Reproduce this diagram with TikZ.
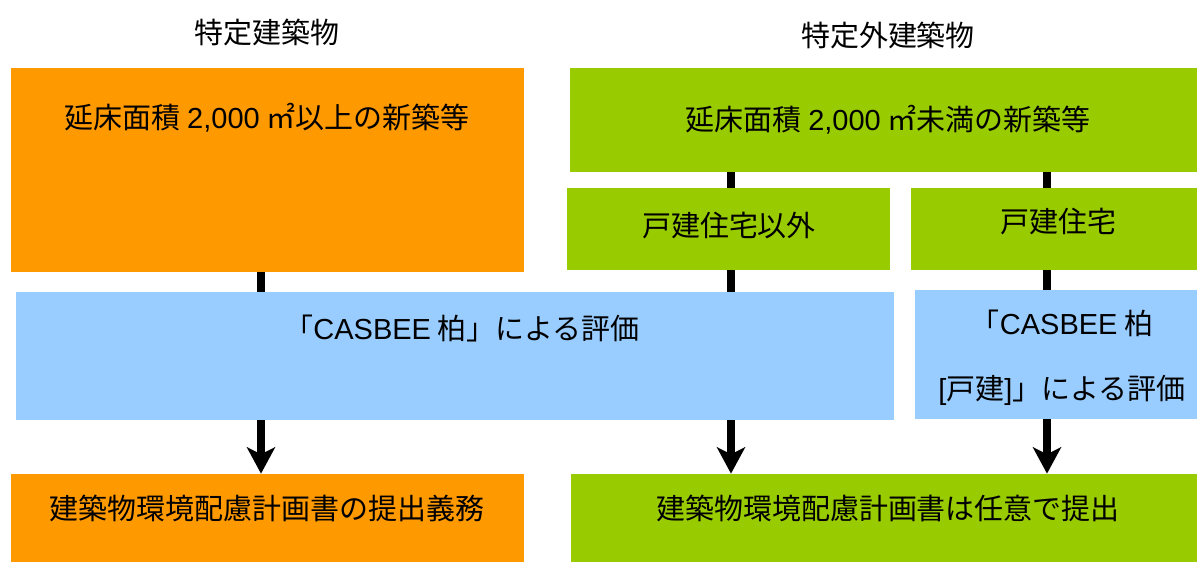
\documentclass[tikz,border=0pt]{standalone}
\usepackage{fontspec}
\setmainfont{Noto Sans CJK JP}
\newfontfamily\lat{Liberation Sans}
\usepackage{tikz}
\usetikzlibrary{arrows.meta}
\definecolor{boxorange}{HTML}{FF9900}
\definecolor{boxgreen}{HTML}{99CC00}
\definecolor{boxblue}{HTML}{99CCFF}

\begin{document}
\begin{tikzpicture}[
x=0.02cm, y=-0.02cm,
font=\fontsize{16.5}{20}\selectfont,
panel/.style={draw=none, inner sep=0pt},
orangebox/.style={panel, fill=boxorange},
greenbox/.style={panel, fill=boxgreen},
bluebox/.style={panel, fill=boxblue},
link/.style={line width=4.5pt},
downarrow/.style={line width=4.5pt, -{Stealth[length=15pt,width=16pt,inset=4pt]}}
]
    % Frame
    \useasboundingbox (0,0) rectangle (1197,563);

    % Column titles
    \node (specTitle) at (267,32) {特定建築物};
    \node (nonspecTitle) at (888,35) {特定外建築物};

    % Boxes
    \node[orangebox, minimum width=10.26cm, minimum height=4.08cm] (spec) at (267.5,170) {};
    \node[greenbox, minimum width=12.54cm, minimum height=2.08cm] (nonspec) at (883.5,120) {};
    \node[greenbox, minimum width=6.46cm, minimum height=1.64cm] (other) at (728.5,229) {};
    \node[greenbox, minimum width=5.72cm, minimum height=1.64cm] (house) at (1054,229) {};
    \node[bluebox, minimum width=17.56cm, minimum height=2.56cm] (casbee) at (455,356) {};
    \node[bluebox, minimum width=5.64cm, minimum height=2.58cm] (casbeeHouse) at (1056,354.5) {};
    \node[orangebox, minimum width=10.26cm, minimum height=1.76cm] (duty) at (267.5,518) {};
    \node[greenbox, minimum width=12.52cm, minimum height=1.76cm] (optional) at (884,518) {};

    % Texts
    \node (specText) at (267,118) {延床面積 {\lat 2,000} ㎡以上の新築等};
    \node (nonspecText) at (888,120) {延床面積 {\lat 2,000} ㎡未満の新築等};
    \node (otherText) at (729,226) {戸建住宅以外};
    \node (houseText) at (1058,222) {戸建住宅};
    \node (casbeeText) at (462,328) {「{\lat CASBEE} 柏」による評価};
    \node[align=center, font=\fontsize{16.5}{37}\selectfont] (casbeeHouseText) at (1062,357.5)
        {「{\lat CASBEE} 柏\\{\lat[}戸建{\lat]}」による評価};
    \node (dutyText) at (267,508) {建築物環境配慮計画書の提出義務};
    \node (optionalText) at (888,508) {建築物環境配慮計画書は任意で提出};

    % Connectors
    \coordinate (c1) at (261,0);
    \coordinate (c2) at (731,0);
    \coordinate (c3) at (1047,0);

    \draw[link] (spec.south -| c1) -- (casbee.north -| c1);
    \draw[downarrow] (casbee.south -| c1) -- (duty.north -| c1);

    \draw[link] (nonspec.south -| c2) -- (other.north -| c2);
    \draw[link] (other.south -| c2) -- (casbee.north -| c2);
    \draw[downarrow] (casbee.south -| c2) -- (optional.north -| c2);

    \draw[link] (nonspec.south -| c3) -- (house.north -| c3);
    \draw[link] (house.south -| c3) -- (casbeeHouse.north -| c3);
    \draw[downarrow] (casbeeHouse.south -| c3) -- (optional.north -| c3);

\end{tikzpicture}
\end{document}
